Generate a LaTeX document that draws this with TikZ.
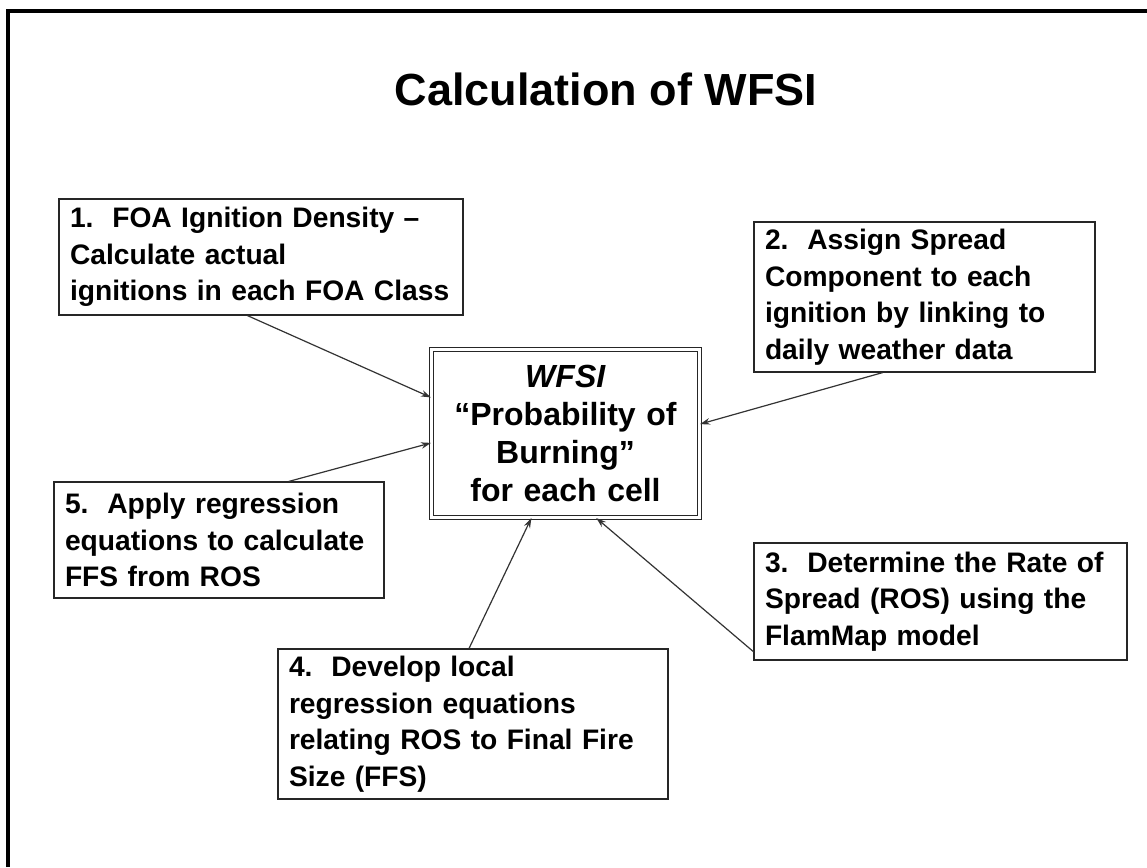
\documentclass[tikz,border=0pt]{standalone}
\usepackage{fontspec}
\setmainfont{Liberation Sans}
\usetikzlibrary{arrows.meta}
\begin{document}
\begin{tikzpicture}[x=1pt, y=-1pt]
    \tikzstyle{stepbox} = [draw=black!85, line width=1.2pt, align=left, inner xsep=11pt, inner ysep=0pt, font=\fontsize{28.2}{36.5}\selectfont\bfseries]
    \tikzstyle{result} = [draw=black!85, line width=1pt, double=white, double distance=2.6pt, align=center, inner sep=0pt, font=\fontsize{32}{38}\selectfont\bfseries]
    \tikzstyle{feed} = [draw=black!80, line width=1.2pt, -{Stealth[length=10pt, width=6.5pt]}]
    \useasboundingbox (0,0) rectangle (1147,867);
    \fill[white] (0,0) rectangle (1147,867);
    \draw[line width=3.5pt] (8,867) -- (8,11) -- (1147,11);
    \node[font=\fontsize{45}{54}\selectfont\bfseries, anchor=base] (title) at (606,105) {Calculation of WFSI};

    \node[result, text width=268, minimum height=168] (wfsi) at (565.5,433.5) {\textit{WFSI}\\“Probability of\\Burning”\\for each cell};

    \node[stepbox, text width=382, minimum height=116] (foa) at (261,257) {1.\ \ FOA Ignition Density –\\Calculate actual\\ignitions in each FOA Class};
    \node[stepbox, text width=319, minimum height=150] (spread) at (924.5,297) {2.\ \ Assign Spread\\Component to each\\ignition by linking to\\daily weather data};
    \node[stepbox, text width=351, minimum height=117] (ros) at (940.5,601.5) {3.\ \ Determine the Rate of\\Spread (ROS) using the\\FlamMap model};
    \node[stepbox, text width=368, minimum height=150] (regr) at (473,724) {4.\ \ Develop local\\regression equations\\relating ROS to Final Fire\\Size (FFS)};
    \node[stepbox, text width=308, minimum height=116] (ffs) at (219,540) {5.\ \ Apply regression\\equations to calculate\\FFS from ROS};

    \draw[feed] (foa.-103) -- (wfsi.165);
    \draw[feed] (spread.-119) -- (wfsi.4);
    \draw[feed] (ros.195) -- (wfsi.-70);
    \draw[feed] (regr.93) -- (wfsi.-112);
    \draw[feed] (ffs.40) -- (wfsi.184);
\end{tikzpicture}
\end{document}
